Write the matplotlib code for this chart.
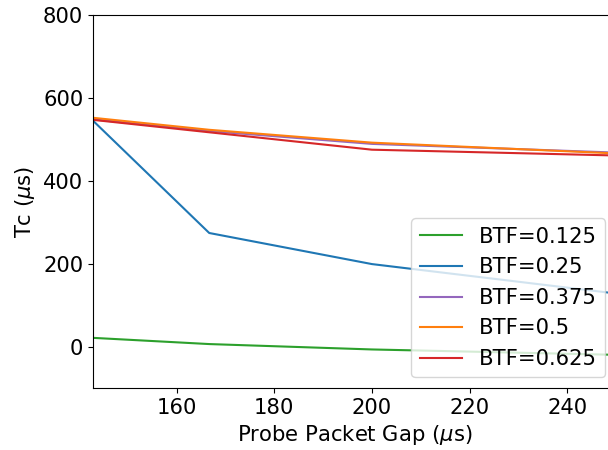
import matplotlib
matplotlib.use("Agg")
import matplotlib.pyplot as plt

gap = [142.86, 166.67, 200.0, 250.0]
labels = ["BTF=0.125", "BTF=0.25", "BTF=0.375", "BTF=0.5", "BTF=0.625"]
tc_0125 = [21, 6, -7, -20]
tc_025 = [545, 274, 199, 128]
tc_0375 = [548, 520, 489, 468]
tc_05 = [552, 523, 492, 466]
tc_0625 = [547, 517, 475, 461]
colors = ["#2ca02c", "#1f77b4", "#9467bd", "#ff7f0e", "#d62728"]

plt.rcParams['font.size'] = 15.2
fig = plt.figure(figsize=(6.08, 4.5), dpi=100)
ax = fig.add_axes([93/608, 62/450, (616-93)/608, (388-15)/450])
for ys, lab, c in zip([tc_0125, tc_025, tc_0375, tc_05, tc_0625], labels, colors):
    ax.plot(gap, ys, color=c, label=lab, linewidth=1.5)
ax.set_xlim(gap[0], gap[-1])
ax.set_ylim(-100, 800)
ax.set_xticks([160, 180, 200, 220, 240])
ax.set_yticks([0, 200, 400, 600, 800])
ax.set_xlabel(r"Probe Packet Gap ($\mu$s)")
ax.set_ylabel(r"Tc ($\mu$s)")
ax.legend(loc="lower right")
fig.savefig("out.png", dpi=100)
